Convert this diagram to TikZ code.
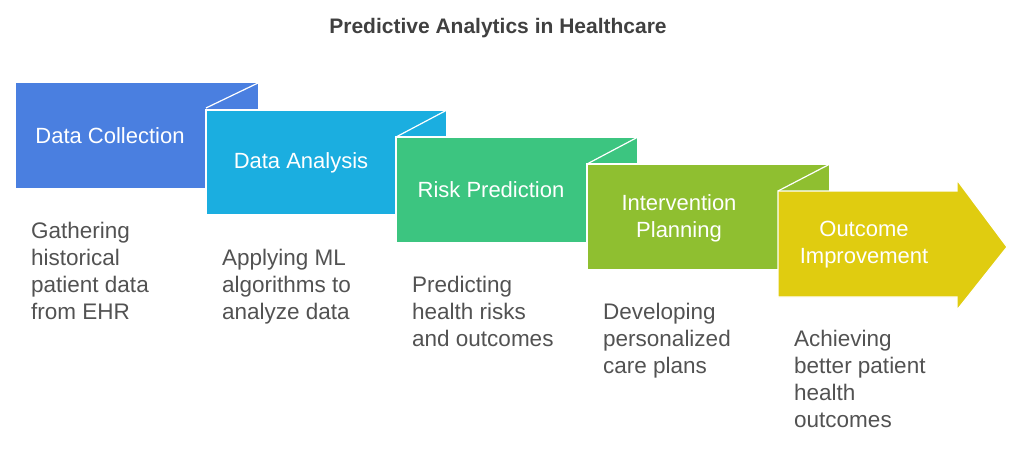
\documentclass[tikz,border=0pt]{standalone}
\usepackage{fontspec}
\setmainfont{Liberation Sans}
\begin{document}
\begin{tikzpicture}[x=1pt,y=-1pt,
  lab/.style={text=white,font=\fontsize{22}{27}\selectfont,align=center},
  desc/.style={text=black!68,font=\fontsize{22.5}{27}\selectfont,align=left,anchor=north west,inner sep=0pt},
  edge/.style={draw=white,line width=1.2pt}]
\useasboundingbox (0,0) rectangle (1024,449);
\definecolor{c1}{HTML}{4A7FE0}\definecolor{c2}{HTML}{1BAEE0}\definecolor{c3}{HTML}{3CC580}
\definecolor{c4}{HTML}{8FBF30}\definecolor{c5}{HTML}{E0CC10}
\node[font=\bfseries\fontsize{21}{24}\selectfont,text=black!75] (title) at (498,28) {Predictive Analytics in Healthcare};
% boxes
\fill[c1] (16,83) rectangle (258,188);
\draw[edge] (206,108) -- (258,83);
\draw[edge,fill=c2] (206,110) rectangle (447,215);
\draw[edge] (396,137)--(447,110);
\draw[edge,fill=c3] (396,137) rectangle (638,243);
\draw[edge] (587,164)--(638,137);
\draw[edge,fill=c4] (587,164) rectangle (830,270);
\draw[edge] (778,191)--(830,164);
\draw[edge,fill=c5] (778,191) -- (957,191) -- (957,180) -- (1007,247) -- (957,310) -- (957,297) -- (778,297) -- cycle;
\node[lab] (l1) at (110,136) {Data Collection};
\node[lab] (l2) at (301,163) {Data Analysis};
\node[lab] (l3) at (491,190) {Risk Prediction};
\node[lab] (l4) at (679,218) {Intervention\\Planning};
\node[lab] (l5) at (864,245) {Outcome\\Improvement};
\node[desc] (d1) at (31,222) {Gathering\\historical\\patient data\\from EHR};
\node[desc] (d2) at (222,249) {Applying ML\\algorithms to\\analyze data};
\node[desc] (d3) at (412,276) {Predicting\\health risks\\and outcomes};
\node[desc] (d4) at (603,303) {Developing\\personalized\\care plans};
\node[desc] (d5) at (794,330) {Achieving\\better patient\\health\\outcomes};
\end{tikzpicture}
\end{document}
